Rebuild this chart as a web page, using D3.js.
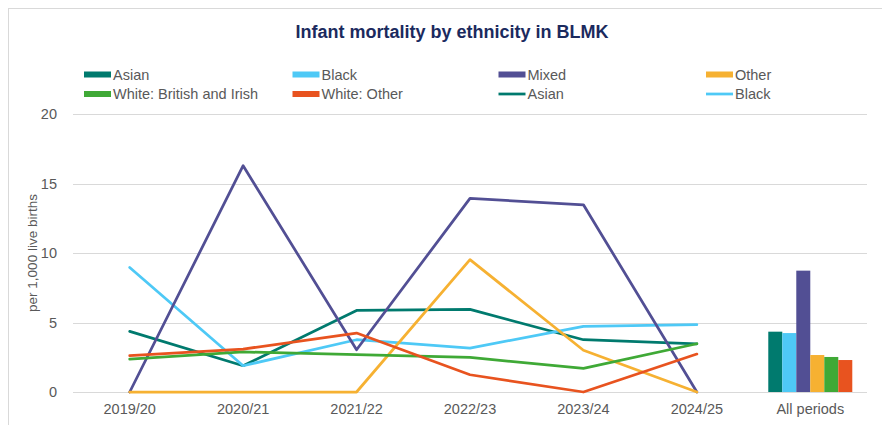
<!DOCTYPE html>
<html>
<head>
<meta charset="utf-8">
<script src="https://cdn.jsdelivr.net/npm/d3@7"></script>
<style>
  body { margin: 0; background: #fff; }
  text { font-family: "Liberation Sans", Arial, sans-serif; }
</style>
</head>
<body>
<div id="container"></div>
<script>
let w = 882;
let h = 425;

// DATA
let periods = ["2019/20", "2020/21", "2021/22", "2022/23", "2023/24", "2024/25"];
let categories = periods.concat(["All periods"]);
let groups = ["Asian", "Black", "Mixed", "Other", "White: British and Irish", "White: Other"];

let asian = [4.36, 1.89, 5.87, 5.94, 3.76, 3.47];
let black = [8.96, 1.89, 3.76, 3.16, 4.72, 4.84];
let mixed = [0, 16.28, 3.04, 13.93, 13.47, 0];
let other = [0, 0, 0, 9.52, 3.0, 0];
let whiteBritish = [2.37, 2.88, 2.68, 2.49, 1.70, 3.47];
let whiteOther = [2.61, 3.09, 4.24, 1.24, 0, 2.73];

let allPeriods = [4.34, 4.24, 8.73, 2.66, 2.52, 2.30];

let yTicks = [0, 5, 10, 15, 20];

let colors = ["#007a6e", "#4ec9f6", "#524f94", "#f6b132", "#3fa936", "#e8531f"];

let lineSeries = [asian, black, mixed, other, whiteBritish, whiteOther];

// SVG
let viz = d3.select("#container").append("svg")
    .attr("width", w)
    .attr("height", h)
    .style("display", "block");

// chart border
viz.append("rect")
  .attr("x", 8.5).attr("y", 8.5)
  .attr("width", w + 10).attr("height", h + 10)
  .attr("fill", "white")
  .attr("stroke", "#d9d9d9");

// TITLE
viz.append("text")
  .text("Infant mortality by ethnicity in BLMK")
  .attr("x", 452)
  .attr("y", 38)
  .attr("text-anchor", "middle")
  .style("font-weight", "bold")
  .style("font-size", "18px")
  .attr("fill", "#1b2a5e");

// SCALES
let xScale = d3.scaleBand().domain(categories).range([73, 867]);
let yScale = d3.scaleLinear().domain([0, 20]).range([392, 114]);

// gridlines
viz.selectAll(".grid").data(yTicks).enter()
  .append("line")
    .attr("class", "grid")
    .attr("x1", 73).attr("x2", 867)
    .attr("y1", d => Math.round(yScale(d)) + 0.5)
    .attr("y2", d => Math.round(yScale(d)) + 0.5)
    .attr("stroke", "#d9d9d9")
    .attr("stroke-width", 1);

// AXES
let yAxis = d3.axisLeft(yScale).tickValues(yTicks).tickSize(0).tickPadding(0);
let yG = viz.append("g").attr("transform", "translate(57,0)").call(yAxis);
yG.select(".domain").remove();
yG.selectAll("text")
  .style("font-family", "'Liberation Sans', sans-serif")
  .style("font-size", "14.5px")
  .attr("fill", "#595959");

let xAxis = d3.axisBottom(xScale).tickSize(0).tickPadding(0);
let xG = viz.append("g").attr("transform", "translate(0,404)").call(xAxis);
xG.select(".domain").remove();
xG.selectAll("text")
  .style("font-family", "'Liberation Sans', sans-serif")
  .style("font-size", "14.5px")
  .attr("fill", "#595959");

viz.append("text")
  .text("per 1,000 live births")
  .attr("transform", "translate(37,253) rotate(-90)")
  .attr("text-anchor", "middle")
  .style("font-size", "13.5px")
  .attr("fill", "#595959");

// BARS (All periods)
let barBand = xScale.bandwidth();
let inner = d3.scaleBand().domain(groups)
  .range([xScale("All periods") + (barBand - 84) / 2, xScale("All periods") + (barBand + 84) / 2]);

viz.selectAll(".bar").data(allPeriods).enter()
  .append("rect")
    .attr("class", "bar")
    .attr("x", (d, i) => inner(groups[i]))
    .attr("width", inner.bandwidth())
    .attr("y", d => yScale(d))
    .attr("height", d => yScale(0) - yScale(d))
    .attr("fill", (d, i) => colors[i]);

// LINES
let lineMaker = d3.line()
  .x((d, i) => xScale(periods[i]) + barBand / 2)
  .y(d => yScale(d));

viz.selectAll(".series").data(lineSeries).enter()
  .append("path")
    .attr("class", "series")
    .attr("d", lineMaker)
    .attr("fill", "none")
    .attr("stroke", (d, i) => colors[i])
    .attr("stroke-width", 2.75)
    .attr("stroke-linejoin", "round")
    .attr("stroke-linecap", "round");

// LEGEND
let legendItems = [
  { name: "Asian", color: colors[0], type: "box" },
  { name: "Black", color: colors[1], type: "box" },
  { name: "Mixed", color: colors[2], type: "box" },
  { name: "Other", color: colors[3], type: "box" },
  { name: "White: British and Irish", color: colors[4], type: "box" },
  { name: "White: Other", color: colors[5], type: "box" },
  { name: "Asian", color: colors[0], type: "line" },
  { name: "Black", color: colors[1], type: "line" }
];
let legendX = [84, 292.5, 498.5, 706];
let legendY = [74.5, 94];

let legend = viz.selectAll(".legend").data(legendItems).enter()
  .append("g")
    .attr("class", "legend")
    .attr("transform", (d, i) => "translate(" + legendX[i % 4] + "," + legendY[Math.floor(i / 4)] + ")");

legend.filter(d => d.type == "box").append("rect")
  .attr("x", 0).attr("y", -3)
  .attr("width", 27).attr("height", 6)
  .attr("fill", d => d.color);

legend.filter(d => d.type == "line").append("line")
  .attr("x1", 0).attr("x2", 27)
  .attr("y1", 0).attr("y2", 0)
  .attr("stroke", d => d.color)
  .attr("stroke-width", 2.75);

legend.append("text")
  .text(d => d.name)
  .attr("x", 29)
  .attr("y", 0)
  .attr("dy", "0.35em")
  .style("font-size", "14.5px")
  .attr("fill", "#595959");
</script>
</body>
</html>
